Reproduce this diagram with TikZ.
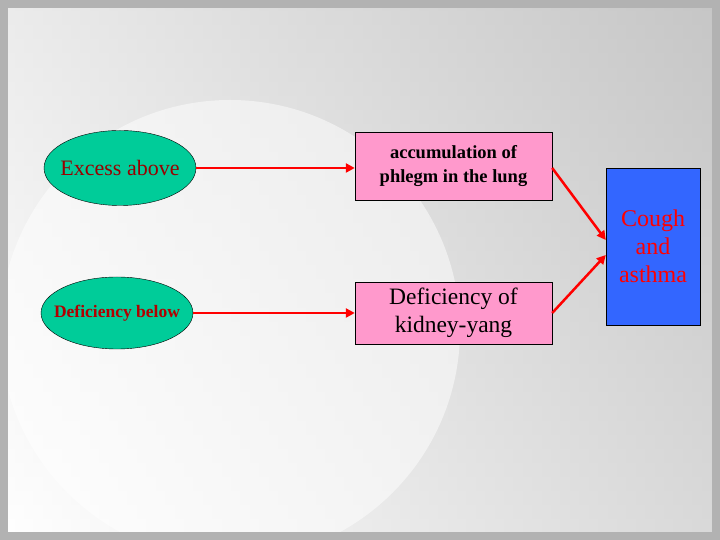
\documentclass[tikz,border=0pt]{standalone}
\usepackage{fontspec}
\setmainfont{Liberation Serif}
\usetikzlibrary{shapes.geometric,arrows.meta}
\definecolor{ellc}{HTML}{00CC99}
\definecolor{pinkc}{HTML}{FF99CC}
\definecolor{bluec}{HTML}{3366FF}
\begin{document}
\begin{tikzpicture}[x=1pt,y=1pt,
  ell/.style={ellipse,draw=black,fill=ellc,minimum width=152pt,minimum height=75pt,inner xsep=-22pt,inner ysep=0pt},
  pbox/.style={draw=black,fill=pinkc,minimum width=197pt,align=center},
  arr/.style={draw=red,line width=2.5pt,-{Triangle[length=9pt,width=9pt]}}]
\useasboundingbox (0,0) rectangle (720,540);
\shade[left color=white,right color=gray!60] (0,0) rectangle (720,540);
\shade[top color=gray!30,bottom color=white,opacity=0.5] (0,0) rectangle (720,540);
\fill[white,opacity=0.5] (230,210) circle (230);
\draw[gray!60,line width=8pt] (4,4) rectangle (716,536);
\node[ell,font=\fontsize{22}{26}\selectfont,text=red!60!black] (e1) at (120,372) {Excess above};
\node[ell,minimum height=72pt,font=\fontsize{17.5}{20}\selectfont\bfseries,text=red!70!black] (e2) at (117,227) {Deficiency below};
\node[pbox,minimum height=68pt,font=\fontsize{18.5}{24}\selectfont\bfseries] (b1) at (453.5,374) {accumulation of\\ phlegm in the lung};
\node[pbox,minimum height=62pt,font=\fontsize{23.5}{28}\selectfont] (b2) at (453.5,227) {Deficiency of\\ kidney-yang};
\node[draw=black,fill=bluec,minimum width=94pt,minimum height=157pt,align=center,font=\fontsize{24}{28}\selectfont,text=red] (c) at (653,293.5) {Cough\\ and\\ asthma};
\draw[arr] (e1.east) -- (b1.west|-e1.east);
\draw[arr] (e2.east) -- (b2.west|-e2.east);
\draw[arr] (b1.east|-0,372) -- (c.west|-0,300);
\draw[arr] (b2.east) -- (c.west|-0,285);
\end{tikzpicture}
\end{document}
